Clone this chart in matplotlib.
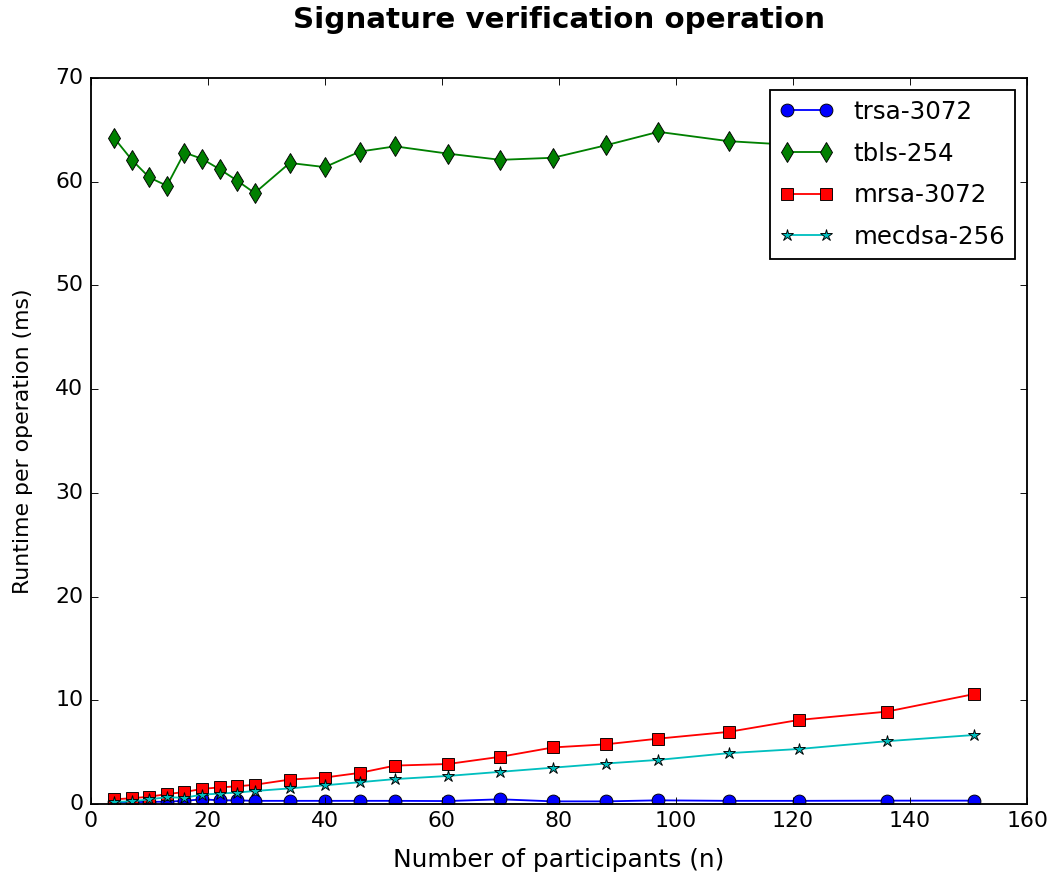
import matplotlib
matplotlib.use("Agg")
import matplotlib.pyplot as plt

plt.style.use("classic")

# participants per run
n = [4, 7, 10, 13, 16, 19, 22, 25, 28, 34, 40, 46, 52, 61, 70, 79, 88, 97,
     109, 121, 136, 151]

# runtime per verification (ms)
trsa_3072 = [0.15, 0.18, 0.2, 0.22, 0.3, 0.45, 0.35, 0.35, 0.3, 0.3, 0.3,
             0.3, 0.3, 0.28, 0.45, 0.25, 0.25, 0.35, 0.3, 0.3, 0.32, 0.32]
tbls_254 = [64.2, 62.1, 60.4, 59.6, 62.8, 62.2, 61.2, 60.1, 58.9, 61.8, 61.4,
            62.9, 63.4, 62.7, 62.1, 62.3, 63.5, 64.8, 63.9, 63.5, 63.1, 63.4]
mrsa_3072 = [0.45, 0.55, 0.7, 0.95, 1.15, 1.45, 1.6, 1.7, 1.85, 2.35, 2.55,
             3.0, 3.7, 3.85, 4.55, 5.45, 5.75, 6.3, 6.95, 8.1, 8.9, 10.6]
mecdsa_256 = [0.2, 0.25, 0.45, 0.65, 0.6, 0.9, 1.0, 1.1, 1.25, 1.5, 1.8,
              2.1, 2.4, 2.7, 3.1, 3.5, 3.9, 4.25, 4.9, 5.3, 6.05, 6.65]

fig = plt.figure(figsize=(8.0, 6.69), dpi=132, facecolor="white")
ax = fig.add_subplot(111)
fig.subplots_adjust(left=0.086, right=0.9726, bottom=0.0895, top=0.9117)

ax.plot(n, trsa_3072, "b-o", markersize=7, label="trsa-3072")
ax.plot(n, tbls_254, "g-d", markersize=8, label="tbls-254")
ax.plot(n, mrsa_3072, "r-s", markersize=7, label="mrsa-3072")
ax.plot(n, mecdsa_256, "c-*", markersize=7, label="mecdsa-256")

ax.set_xlim(0, 160)
ax.set_ylim(0, 70)
ax.set_title("Signature verification operation", fontweight="bold",
             fontsize=16, pad=27)
ax.set_xlabel("Number of participants (n)", fontsize=13.6, labelpad=9)
ax.set_ylabel("Runtime per operation (ms)", labelpad=12)
ax.legend(loc="upper right", fontsize=13.4, labelspacing=0.72,
          handlelength=2.2)

fig.savefig("out.png", dpi=132, facecolor="white")
